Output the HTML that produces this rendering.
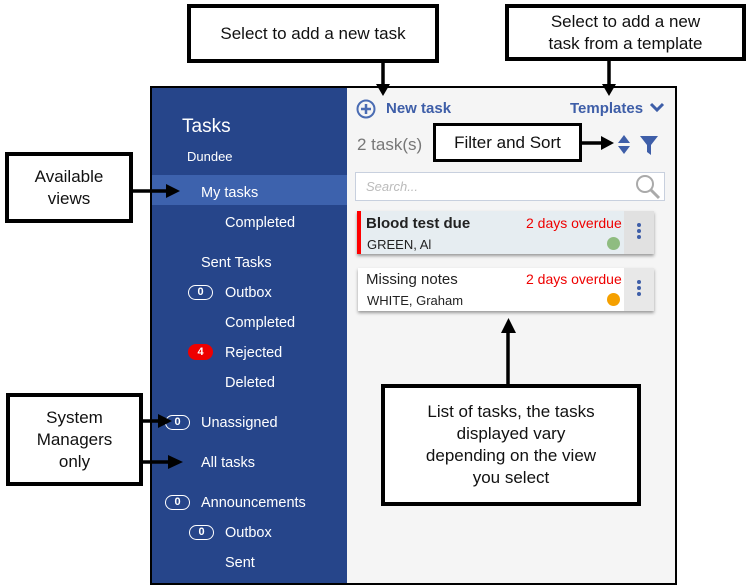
<!DOCTYPE html>
<html><head><meta charset="utf-8"><style>
*{margin:0;padding:0;box-sizing:border-box}
body{width:748px;height:585px;background:#fff;position:relative;overflow:hidden;font-family:"Liberation Sans","DejaVu Sans",sans-serif}
.a{position:absolute}
.box{position:absolute;border:4px solid #000;background:#fff;display:flex;align-items:center;justify-content:center;text-align:center;font-size:17px;color:#111;line-height:22px}
.side{color:#fff;font-size:14.5px;position:absolute;line-height:18px}
.pill{position:absolute;width:25px;height:15px;border:1.5px solid #fff;border-radius:8px;color:#fff;font-size:11px;font-weight:bold;text-align:center;line-height:12px}
.red{color:#e00;font-size:14px}
</style></head><body>
<div class="a" style="left:150px;top:86px;width:527px;height:499px;border:2px solid #000;background:#f5f5f5"></div>
<div class="a" style="left:152px;top:88px;width:195px;height:495px;background:#26458a"></div>
<div class="a" style="left:152px;top:175px;width:195px;height:30px;background:#3d62ad"></div>
<div class="side" style="left:182px;top:116px;font-size:19px;line-height:22px">Tasks</div>
<div class="side" style="left:187px;top:148px;font-size:13px">Dundee</div>
<div class="side" style="left:201px;top:184px">My tasks</div>
<div class="side" style="left:225px;top:214px">Completed</div>
<div class="side" style="left:201px;top:254px">Sent Tasks</div>
<div class="pill" style="left:188px;top:285px">0</div>
<div class="side" style="left:225px;top:284px">Outbox</div>
<div class="side" style="left:225px;top:314px">Completed</div>
<div class="a" style="left:188px;top:344px;width:25px;height:16px;border-radius:8px;background:#e00;color:#fff;font-size:11px;font-weight:bold;text-align:center;line-height:16px">4</div>
<div class="side" style="left:225px;top:344px">Rejected</div>
<div class="side" style="left:225px;top:374px">Deleted</div>
<div class="pill" style="left:165px;top:415px">0</div>
<div class="side" style="left:201px;top:414px">Unassigned</div>
<div class="side" style="left:201px;top:454px">All tasks</div>
<div class="pill" style="left:165px;top:495px">0</div>
<div class="side" style="left:201px;top:494px">Announcements</div>
<div class="pill" style="left:189px;top:525px">0</div>
<div class="side" style="left:225px;top:524px">Outbox</div>
<div class="side" style="left:225px;top:554px">Sent</div>
<svg class="a" style="left:356px;top:99px" width="22" height="22"><circle cx="10" cy="10" r="8.5" fill="none" stroke="#4a6cb3" stroke-width="2"/><path d="M10 5v10M5 10h10" stroke="#4a6cb3" stroke-width="2.5"/></svg>
<div class="a" style="left:386px;top:100px;color:#3e5ea8;font-size:15px;font-weight:bold">New task</div>
<div class="a" style="left:570px;top:100px;color:#3e5ea8;font-size:15px;font-weight:bold">Templates</div>
<svg class="a" style="left:649px;top:102px" width="16" height="12"><path d="M2 2l6 6 6-6" fill="none" stroke="#3e5ea8" stroke-width="3"/></svg>
<div class="a" style="left:357px;top:135px;color:#777;font-size:17px">2 task(s)</div>
<svg class="a" style="left:616px;top:133px" width="50" height="24"><path d="M2 10l6-8 6 8z M2 13l6 8 6-8z" fill="#3e5ea8"/><path d="M24 3h18l-7 9v10l-4-3v-7z" fill="#3e5ea8"/></svg>
<div class="a" style="left:355px;top:172px;width:310px;height:29px;background:#fff;border:1px solid #c8d0de"></div>
<div class="a" style="left:366px;top:179px;color:#bbb;font-size:13px;font-style:italic">Search...</div>
<svg class="a" style="left:634px;top:174px" width="28" height="26"><circle cx="11" cy="10" r="8" fill="none" stroke="#aaa" stroke-width="2"/><path d="M17 16l8 8" stroke="#aaa" stroke-width="3"/></svg>
<div class="a" style="left:357px;top:211px;width:297px;height:43px;background:#e6edf1;box-shadow:0 2px 3px #999;border-left:4px solid #f00"></div>
<div class="a" style="left:624px;top:211px;width:30px;height:43px;background:#e1e1e1"></div>
<div class="a" style="left:366px;top:215px;font-size:15px;font-weight:bold;color:#222">Blood test due</div>
<div class="a red" style="left:526px;top:215px">2 days overdue</div>
<div class="a" style="left:367px;top:237px;font-size:13px;color:#222">GREEN, Al</div>
<div class="a" style="left:607px;top:237px;width:13px;height:13px;border-radius:50%;background:#8fbc80"></div>
<div class="a" style="left:358px;top:268px;width:296px;height:43px;background:#fff;box-shadow:0 2px 3px #999"></div>
<div class="a" style="left:624px;top:268px;width:30px;height:43px;background:#e8e8e8"></div>
<div class="a" style="left:366px;top:271px;font-size:15px;color:#222">Missing notes</div>
<div class="a red" style="left:526px;top:271px">2 days overdue</div>
<div class="a" style="left:367px;top:293px;font-size:13px;color:#222">WHITE, Graham</div>
<div class="a" style="left:607px;top:293px;width:13px;height:13px;border-radius:50%;background:#f5a000"></div>
<svg class="a" style="left:636px;top:222px" width="6" height="80"><g fill="#3e5ea8"><circle cx="3" cy="3" r="2"/><circle cx="3" cy="9" r="2"/><circle cx="3" cy="15" r="2"/><circle cx="3" cy="60" r="2"/><circle cx="3" cy="66" r="2"/><circle cx="3" cy="72" r="2"/></g></svg>
<div class="box" style="left:187px;top:4px;width:252px;height:59px">Select to add a new task</div>
<div class="box" style="left:505px;top:4px;width:241px;height:57px">Select to add a new<br>task from a template</div>
<div class="box" style="left:433px;top:123px;width:149px;height:39px;border-width:3px">Filter and Sort</div>
<div class="box" style="left:5px;top:152px;width:128px;height:71px">Available<br>views</div>
<div class="box" style="left:6px;top:393px;width:137px;height:93px">System<br>Managers<br>only</div>
<div class="box" style="left:381px;top:384px;width:260px;height:122px">List of tasks, the tasks<br>displayed vary<br>depending on the view<br>you select</div>
<svg class="a" style="left:0;top:0" width="748" height="585">
<g stroke="#000" stroke-width="3.5" fill="#000">
<line x1="383" y1="63" x2="383" y2="86"/><path d="M376 84h14l-7 12z" stroke="none"/>
<line x1="609" y1="61" x2="609" y2="86"/><path d="M602 84h14l-7 12z" stroke="none"/>
<line x1="582" y1="143" x2="603" y2="143"/><path d="M601 136v14l13-7z" stroke="none"/>
<line x1="133" y1="191" x2="168" y2="191"/><path d="M166 184v14l14-7z" stroke="none"/>
<line x1="143" y1="421" x2="160" y2="421"/><path d="M158 414v14l14-7z" stroke="none"/>
<line x1="143" y1="462" x2="170" y2="462"/><path d="M168 455v14l15-7z" stroke="none"/>
<line x1="508" y1="384" x2="508" y2="330"/><path d="M501 333h15l-7.5-15z" stroke="none"/>
</g></svg>
</body></html>
